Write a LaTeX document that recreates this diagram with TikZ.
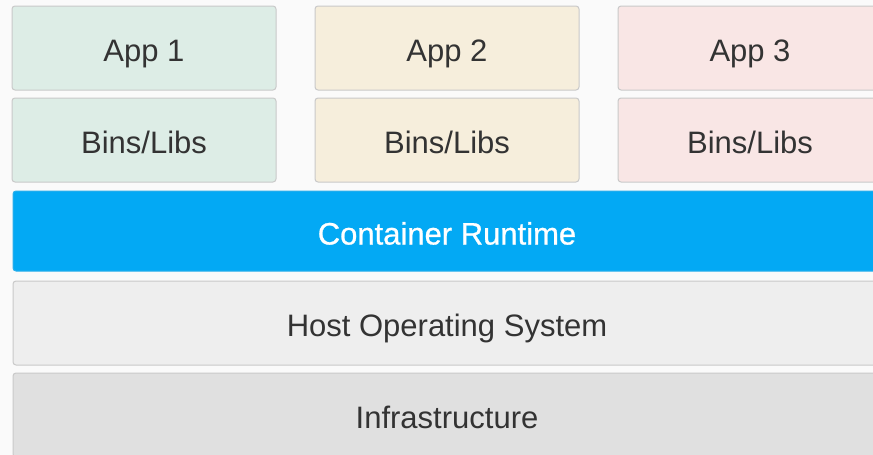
\documentclass[tikz,border=0pt]{standalone}
\usepackage{fontspec}
\setmainfont{Liberation Sans}
\definecolor{pagebg}{HTML}{FAFAFA}
\definecolor{edge}{HTML}{C9C9C9}
\definecolor{inkdark}{HTML}{333333}
\definecolor{appgreen}{HTML}{DDEDE6}
\definecolor{appyellow}{HTML}{F6EEDC}
\definecolor{apppink}{HTML}{F9E6E5}
\definecolor{runtime}{HTML}{03A9F4}
\definecolor{hostos}{HTML}{EEEEEE}
\definecolor{infra}{HTML}{E0E0E0}
\tikzset{
  layer/.style={draw=edge, line width=1pt, rounded corners=3pt,
    inner sep=0pt, text=inkdark, font=\fontsize{31}{36}\selectfont,
    text height=27pt, text depth=0pt},
  appbox/.style={layer, minimum width=264pt, minimum height=84pt},
  barbox/.style={layer, minimum width=868pt},
}
\begin{document}
\begin{tikzpicture}[x=1pt,y=-1pt]
\useasboundingbox (0,0) rectangle (873,455);
\fill[pagebg] (0,0) rectangle (873,455);
\clip (0,0) rectangle (873,455);
% application stacks
\node[appbox, fill=appgreen]  (app1)  at (144,48)  {App 1};
\node[appbox, fill=appyellow] (app2)  at (447,48)  {App 2};
\node[appbox, fill=apppink]   (app3)  at (750,48)  {App 3};
\node[appbox, fill=appgreen]  (libs1) at (144,140) {Bins/Libs};
\node[appbox, fill=appyellow] (libs2) at (447,140) {Bins/Libs};
\node[appbox, fill=apppink]   (libs3) at (750,140) {Bins/Libs};
% shared layers
\node[barbox, fill=runtime, draw=runtime!80!edge, minimum height=80pt, text=white,
      font=\fontsize{31}{36}\selectfont\addfontfeature{FakeBold=0.8}] (rt) at (447,231) {Container Runtime};
\node[barbox, fill=hostos, minimum height=84pt] (os) at (447,323) {Host Operating System};
\node[barbox, fill=infra, minimum height=84pt] (hw) at (447,415) {Infrastructure};
\end{tikzpicture}
\end{document}
